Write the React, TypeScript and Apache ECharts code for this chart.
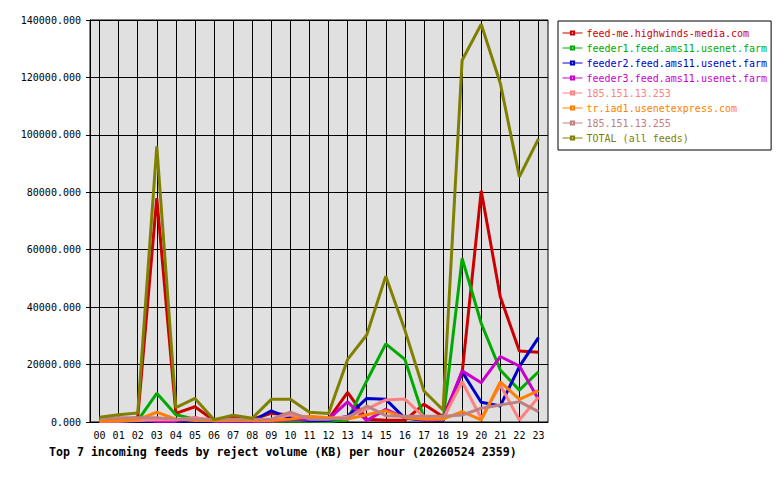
import React, { useEffect, useRef } from "react";
import * as echarts from "echarts";

const hours = ["00","01","02","03","04","05","06","07","08","09","10","11","12","13","14","15","16","17","18","19","20","21","22","23"];
const yTicks = [0, 20000, 40000, 60000, 80000, 100000, 120000, 140000];

const feedMe = [500, 800, 1500, 78000, 3000, 5300, 500, 1500, 1000, 3000, 2500, 1500, 1000, 10300, 1000, 600, 600, 6200, 1800, 17000, 80500, 43600, 24700, 24300];
const feeder1 = [500, 500, 500, 10000, 2500, 1000, 300, 500, 300, 300, 300, 300, 200, 800, 14300, 27200, 21800, 1400, 500, 57000, 34400, 18100, 11100, 17500];
const feeder2 = [300, 300, 300, 300, 300, 300, 300, 300, 300, 3900, 1200, 500, 500, 2000, 8200, 7900, 1300, 700, 500, 17500, 6900, 5600, 19300, 29400];
const feeder3 = [300, 300, 1200, 300, 300, 1500, 300, 300, 300, 300, 800, 1000, 1000, 7000, 500, 4400, 1500, 800, 800, 17800, 13700, 22800, 19500, 7900];
const ip253 = [300, 300, 500, 800, 800, 1500, 500, 800, 500, 1000, 2500, 1500, 1200, 1800, 4500, 7700, 8000, 1800, 1000, 14000, 1300, 12900, 700, 8600];
const iad1 = [300, 500, 800, 3400, 1000, 500, 500, 500, 500, 500, 1000, 2000, 1500, 1000, 2500, 3900, 1500, 1000, 1000, 3600, 700, 14000, 7900, 10900];
const ip255 = [1200, 1500, 1500, 1500, 1000, 1000, 1000, 1000, 1000, 1000, 3400, 1000, 1000, 1400, 5600, 2200, 2000, 2000, 2000, 2400, 4800, 5900, 7100, 3600];
const total = [1700, 2500, 3100, 96000, 5000, 8200, 800, 2400, 1300, 7900, 7900, 3400, 3000, 21800, 30300, 50800, 32000, 10800, 4200, 126000, 138500, 118000, 85400, 98600];

const seriesNames = [
  "feed-me.highwinds-media.com",
  "feeder1.feed.ams11.usenet.farm",
  "feeder2.feed.ams11.usenet.farm",
  "feeder3.feed.ams11.usenet.farm",
  "185.151.13.253",
  "tr.iad1.usenetexpress.com",
  "185.151.13.255",
  "TOTAL (all feeds)",
];
const seriesData = [feedMe, feeder1, feeder2, feeder3, ip253, iad1, ip255, total];
const seriesColors = ["#cc0000", "#00aa00", "#0000cc", "#cc00cc", "#ff8080", "#ff8000", "#c08080", "#808000"];

const titleText = "Top 7 incoming feeds by reject volume (KB) per hour (20260524 2359)";

const FONT = "DejaVu Sans Mono";

export default function App() {
  const ref = useRef<HTMLDivElement>(null);
  useEffect(() => {
    if (!ref.current) return;
    const chart = echarts.init(ref.current, null, { renderer: "svg" });
    chart.setOption({
      animation: false,
      backgroundColor: "#ffffff",
      title: {
        text: titleText,
        left: 49,
        top: 446,
        padding: 0,
        textStyle: { fontFamily: FONT, fontWeight: "bold", fontSize: 11.6, color: "#000" },
      },
      legend: {
        orient: "vertical",
        left: 558,
        top: 21,
        padding: [7, 4, 7, 4],
        backgroundColor: "#ffffff",
        borderColor: "#000",
        borderWidth: 1,
        itemWidth: 20,
        itemHeight: 4,
        itemGap: 5,
        lineStyle: { width: 1 },
        data: seriesNames.map((n, i) => ({
          name: n,
          textStyle: { color: seriesColors[i] },
        })),
        textStyle: { fontFamily: FONT, fontSize: 10, lineHeight: 10, padding: [0, 0, 0, -1] },
      },
      grid: { left: 90, right: 232, top: 20, bottom: 58, show: true, backgroundColor: "#e0e0e0", borderColor: "#000", borderWidth: 1 },
      xAxis: {
        type: "category",
        data: hours,
        boundaryGap: true,
        axisLine: { lineStyle: { color: "#000", width: 1 } },
        axisTick: { show: false },
        axisLabel: { fontFamily: FONT, fontSize: 10, color: "#000", margin: 8, interval: 0 },
        splitLine: { show: true, alignWithLabel: true, interval: 0, lineStyle: { color: "#000", width: 1 } },
      },
      yAxis: {
        type: "value",
        min: 0,
        max: 140000,
        interval: 20000,
        axisLine: { show: true, lineStyle: { color: "#000", width: 1 } },
        axisTick: { show: true, length: 4, lineStyle: { color: "#000" } },
        axisLabel: {
          fontFamily: FONT,
          fontSize: 10,
          color: "#000",
          margin: 9,
          customValues: yTicks,
          formatter: (v: number) => v.toFixed(3),
        },
        splitLine: { show: true, lineStyle: { color: "#000", width: 1 } },
      },
      series: seriesNames.map((n, i) => ({
        name: n,
        type: "line",
        data: seriesData[i],
        color: seriesColors[i],
        symbol: "emptyRect",
        showSymbol: false,
        lineStyle: { width: 3, color: seriesColors[i] },
        itemStyle: { color: seriesColors[i] },
      })),
    });
    return () => chart.dispose();
  }, []);
  return <div ref={ref} style={{ position: "fixed", left: 0, top: 0, width: 780, height: 480 }} />;
}
